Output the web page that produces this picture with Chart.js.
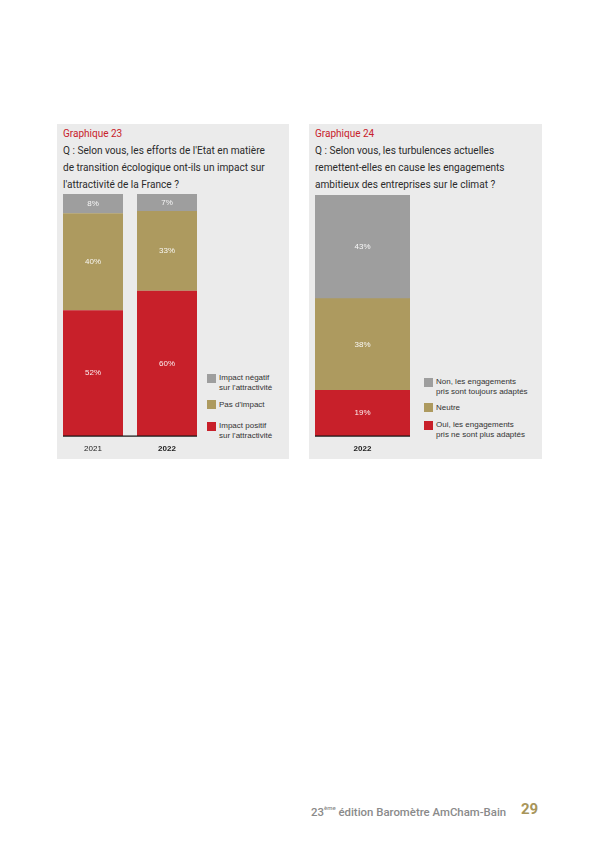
<!DOCTYPE html>
<html>
<head>
<meta charset="utf-8">
<script src="https://cdn.jsdelivr.net/npm/chart.js@4"></script>
<style>
  html, body { margin: 0; padding: 0; background: #fff; }
  body { width: 600px; height: 848px; position: relative; overflow: hidden; font-family: Roboto, "Liberation Sans", sans-serif; }
  .panel { position: absolute; top: 124px; height: 335px; background: #ebebeb; }
  .title { position: absolute; color: #c8202a; font-size: 10px; line-height: 17px; }
  .question { position: absolute; color: #2b2b2b; font-size: 10.1px; line-height: 17px; white-space: nowrap; }
  .chart { position: absolute; }
  .legend { position: absolute; font-family: "Liberation Sans", Arial, sans-serif; font-size: 8px; line-height: 9.5px; color: #333; }
  .legend .item { position: absolute; left: 0; white-space: nowrap; }
  .legend .sw { position: absolute; left: 0; width: 9px; height: 9px; }
  .legend .txt { position: absolute; left: 12px; top: 0; }
  .footer { position: absolute; top: 804px; left: 311px; font-size: 11.4px; color: #8a8a8a; font-weight: 500; white-space: nowrap; }
  .footer sup { font-size: 6px; vertical-align: 6px; }
  .pagenum { position: absolute; top: 800px; left: 521px; font-size: 15px; font-weight: bold; color: #a8955a; }
</style>
</head>
<body>
<div class="panel" style="left:57px; width:232px;"></div>
<div class="panel" style="left:309px; width:233px;"></div>

<div class="title" style="left:63px; top:125px;">Graphique 23</div>
<div class="question" style="left:63px; top:142px;">Q : Selon vous, les efforts de l'Etat en matière<br>de transition écologique ont-ils un impact sur<br>l'attractivité de la France ?</div>

<div class="title" style="left:315px; top:125px;">Graphique 24</div>
<div class="question" style="left:315px; top:142px;">Q : Selon vous, les turbulences actuelles<br>remettent-elles en cause les engagements<br>ambitieux des entreprises sur le climat ?</div>

<div class="chart" style="left:56px; top:194px; width:148px; height:262px;"><canvas id="c1"></canvas></div>
<div class="chart" style="left:315px; top:195px; width:95px; height:261px;"><canvas id="c2"></canvas></div>

<div class="legend" id="leg1" style="left:207px; top:0;"></div>
<div class="legend" id="leg2" style="left:424px; top:0;"></div>

<div class="footer">23<sup>ème</sup> édition Baromètre AmCham-Bain</div>
<div class="pagenum">29</div>

<script>
// Graphique 23
const years23 = ['2021', '2022'];
const positif23 = [52, 60];
const pasImpact23 = [40, 33];
const negatif23 = [8, 7];
const legend23 = [
    { text: ['Impact négatif', "sur l'attractivité"], color: '#9e9e9e', top: 374 },
    { text: ["Pas d'impact"], color: '#ad9a5f', top: 400 },
    { text: ['Impact positif', "sur l'attractivité"], color: '#c8202a', top: 422 },
];

// Graphique 24
const years24 = ['2022'];
const oui24 = [19];
const neutre24 = [38];
const non24 = [43];
const legend24 = [
    { text: ['Non, les engagements', 'pris sont toujours adaptés'], color: '#9e9e9e', top: 378 },
    { text: ['Neutre'], color: '#ad9a5f', top: 403 },
    { text: ['Oui, les engagements', 'pris ne sont plus adaptés'], color: '#c8202a', top: 421 },
];

const RED = '#c8202a', TAN = '#ad9a5f', GREY = '#9e9e9e';

// labels au centre de chaque segment + ligne de base noire
const barLabels = {
    id: 'barLabels',
    afterDatasetsDraw(chart) {
        const ctx = chart.ctx;
        ctx.save();
        ctx.font = '8px "Liberation Sans", Arial, sans-serif';
        ctx.fillStyle = 'rgba(255,255,255,0.92)';
        ctx.textAlign = 'center';
        ctx.textBaseline = 'middle';
        let left = Infinity, right = -Infinity;
        chart.data.datasets.forEach((ds, i) => {
            chart.getDatasetMeta(i).data.forEach((bar, j) => {
                const p = bar.getProps(['x', 'y', 'base', 'width'], true);
                ctx.fillText(ds.data[j] + '%', p.x, (p.y + p.base) / 2);
                left = Math.min(left, p.x - p.width / 2);
                right = Math.max(right, p.x + p.width / 2);
            });
        });
        ctx.fillStyle = '#111';
        ctx.fillRect(left, chart.chartArea.bottom - 0.5, right - left, 1.2);
        ctx.restore();
    }
};

function makeChart(id, labels, series, barPct) {
    return new Chart(document.getElementById(id), {
        type: 'bar',
        data: {
            labels: labels,
            datasets: series.map(s => ({
                label: s.label,
                data: s.data,
                backgroundColor: s.color,
                borderWidth: 0,
                barPercentage: barPct,
                categoryPercentage: 1,
            })),
        },
        options: {
            responsive: true,
            maintainAspectRatio: false,
            animation: false,
            layout: { padding: 0 },
            plugins: { legend: { display: false }, tooltip: { enabled: false } },
            scales: {
                x: {
                    stacked: true,
                    grid: { display: false, drawTicks: false },
                    border: { display: false },
                    ticks: {
                        color: '#222',
                        padding: 8,
                        font: ctx => ({
                            family: '"Liberation Sans", Arial, sans-serif',
                            size: 8,
                            weight: labels[ctx.index] === '2022' ? 'bold' : 'normal',
                        }),
                    },
                    afterFit: s => { s.height = 20; },
                },
                y: {
                    stacked: true,
                    display: false,
                    min: 0,
                    max: 100,
                },
            },
        },
        plugins: [barLabels],
    });
}

makeChart('c1', years23, [
    { label: "Impact positif sur l'attractivité", data: positif23, color: RED },
    { label: "Pas d'impact", data: pasImpact23, color: TAN },
    { label: "Impact négatif sur l'attractivité", data: negatif23, color: GREY },
], 60 / 74);

makeChart('c2', years24, [
    { label: 'Oui, les engagements pris ne sont plus adaptés', data: oui24, color: RED },
    { label: 'Neutre', data: neutre24, color: TAN },
    { label: 'Non, les engagements pris sont toujours adaptés', data: non24, color: GREY },
], 1);

function buildLegend(id, items) {
    const el = document.getElementById(id);
    items.forEach(it => {
        const d = document.createElement('div');
        d.className = 'item';
        d.style.top = it.top + 'px';
        d.innerHTML = '<span class="sw" style="background:' + it.color + ';top:0"></span>' +
            '<span class="txt" style="top:' + (it.text.length > 1 ? -1 : 0) + 'px">' + it.text.join('<br>') + '</span>';
        el.appendChild(d);
    });
}
buildLegend('leg1', legend23);
buildLegend('leg2', legend24);
</script>
</body>
</html>
